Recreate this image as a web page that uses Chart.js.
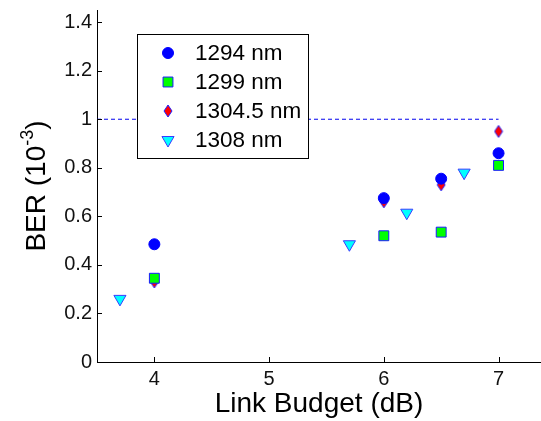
<!DOCTYPE html>
<html>
<head>
<meta charset="utf-8">
<script src="https://cdn.jsdelivr.net/npm/chart.js@4/dist/chart.umd.min.js"></script>
<style>
  html, body { margin: 0; padding: 0; background: #fff; }
  #wrap { width: 541px; height: 421px; }
</style>
</head>
<body>
<div id="wrap"><canvas id="berChart" width="541" height="421"></canvas></div>
<script>
// values
const seriesNames = ["1294 nm", "1299 nm", "1304.5 nm", "1308 nm"];
const budget1294 = [4, 6, 6.5, 7];
const ber1294 = [0.485, 0.675, 0.755, 0.86];
const budget1299 = [4, 6, 6.5, 7];
const ber1299 = [0.345, 0.52, 0.535, 0.81];
const budget13045 = [4, 6, 6.5, 7];
const ber13045 = [0.33, 0.66, 0.73, 0.95];
const budget1308 = [3.7, 5.7, 6.2, 6.7];
const ber1308 = [0.26, 0.485, 0.615, 0.78];
const thresholdX = [3.5, 7];
const thresholdBER = 1;
const xTicks = [4, 5, 6, 7];
const yTicks = [0, 0.2, 0.4, 0.6, 0.8, 1, 1.2, 1.4];

const FONT = "'Liberation Sans', Arial, sans-serif";

function pts(xs, ys) {
    return xs.map((x, i) => ({ x: x, y: ys[i] }));
}

// narrow red diamond with blue edge
function makeDiamond() {
    const c = document.createElement("canvas");
    c.width = 10;
    c.height = 14;
    const g = c.getContext("2d");
    g.beginPath();
    g.moveTo(5, 1);
    g.lineTo(9, 7);
    g.lineTo(5, 13);
    g.lineTo(1, 7);
    g.closePath();
    g.fillStyle = "#ff0000";
    g.fill();
    g.strokeStyle = "#2020ff";
    g.lineWidth = 1;
    g.stroke();
    return c;
}
const diamond = makeDiamond();

const markers = [
    { style: "circle", radius: 5.5, rotation: 0, bg: "#0000ff", border: "#0000ff" },
    { style: "rect", radius: 7, rotation: 0, bg: "#00ff00", border: "#1a1aff" },
    { style: diamond, radius: 6, rotation: 0, bg: "#ff0000", border: "#1a1aff" },
    { style: "triangle", radius: 7, rotation: 180, bg: "#00ffff", border: "#3a3aff" }
];

const seriesData = [
    pts(budget1294, ber1294),
    pts(budget1299, ber1299),
    pts(budget13045, ber13045),
    pts(budget1308, ber1308)
];

const datasets = seriesData.map((d, i) => ({
    type: "scatter",
    label: seriesNames[i],
    data: d,
    pointStyle: markers[i].style,
    pointRadius: markers[i].radius,
    pointRotation: markers[i].rotation,
    backgroundColor: markers[i].bg,
    borderColor: markers[i].border,
    borderWidth: 1
}));

datasets.unshift({
    type: "line",
    label: "threshold",
    data: thresholdX.map(x => ({ x: x, y: thresholdBER })),
    borderColor: "#0000ee",
    borderWidth: 1,
    borderDash: [4, 3],
    pointRadius: 0,
    fill: false
});

// inward tick marks, rotated y title with superscript, boxed legend
const decorations = {
    id: "decorations",
    afterDraw(chart) {
        const ctx = chart.ctx;
        const xs = chart.scales.x;
        const ys = chart.scales.y;
        const area = chart.chartArea;
        ctx.save();
        ctx.strokeStyle = "#000";
        ctx.lineWidth = 1;
        ctx.beginPath();
        xTicks.forEach(v => {
            const px = Math.round(xs.getPixelForValue(v)) + 0.5;
            ctx.moveTo(px, area.bottom);
            ctx.lineTo(px, area.bottom - 5);
        });
        yTicks.forEach(v => {
            const py = Math.round(ys.getPixelForValue(v)) + 0.5;
            ctx.moveTo(area.left, py);
            ctx.lineTo(area.left + 5, py);
        });
        ctx.stroke();

        // y title
        ctx.translate(45, 186);
        ctx.rotate(-Math.PI / 2);
        ctx.fillStyle = "#000";
        ctx.textBaseline = "alphabetic";
        const main = "BER (10";
        const sup = "-3";
        const close = ")";
        ctx.font = "28px " + FONT;
        const w1 = ctx.measureText(main).width;
        ctx.font = "18px " + FONT;
        const w2 = ctx.measureText(sup).width;
        ctx.font = "28px " + FONT;
        const w3 = ctx.measureText(close).width;
        let x0 = -(w1 + w2 + w3) / 2;
        ctx.fillText(main, x0, 0);
        ctx.font = "18px " + FONT;
        ctx.fillText(sup, x0 + w1, -12);
        ctx.font = "28px " + FONT;
        ctx.fillText(close, x0 + w1 + w2, 0);
        ctx.restore();

        // legend
        ctx.save();
        const bx = 137.5, by = 34.5, bw = 171, bh = 124;
        ctx.fillStyle = "#fff";
        ctx.fillRect(bx, by, bw, bh);
        ctx.strokeStyle = "#000";
        ctx.lineWidth = 1;
        ctx.strokeRect(bx, by, bw, bh);
        const rows = [53, 82, 111, 140];
        ctx.font = "22.5px " + FONT;
        ctx.textBaseline = "middle";
        seriesNames.forEach((name, i) => {
            const m = markers[i];
            ctx.fillStyle = m.bg;
            ctx.strokeStyle = m.border;
            ctx.lineWidth = 1;
            ctx.beginPath();
            if (m.style === "circle") {
                ctx.arc(168, rows[i], m.radius, 0, Math.PI * 2);
                ctx.fill();
                ctx.stroke();
            } else if (m.style === "rect") {
                const s = Math.SQRT1_2 * m.radius;
                ctx.rect(168 - s, rows[i] - s, 2 * s, 2 * s);
                ctx.fill();
                ctx.stroke();
            } else if (m.style === "triangle") {
                const r = m.radius;
                ctx.moveTo(168 - r * 0.866, rows[i] - r * 0.5);
                ctx.lineTo(168 + r * 0.866, rows[i] - r * 0.5);
                ctx.lineTo(168, rows[i] + r);
                ctx.closePath();
                ctx.fill();
                ctx.stroke();
            } else {
                ctx.drawImage(m.style, 168 - 5, rows[i] - 7);
            }
            ctx.fillStyle = "#000";
            ctx.fillText(name, 195, rows[i] + 1);
        });
        ctx.restore();
    }
};

new Chart(document.getElementById("berChart"), {
    type: "scatter",
    data: { datasets: datasets },
    options: {
        responsive: false,
        animation: false,
        layout: { autoPadding: false, padding: { top: 10, right: 0, left: 0, bottom: 0 } },
        plugins: {
            legend: { display: false },
            tooltip: { enabled: false }
        },
        scales: {
            x: {
                type: "linear",
                min: 3.5,
                max: 7.37,
                afterBuildTicks: s => { s.ticks = xTicks.map(v => ({ value: v })); },
                afterFit: s => {
                    s.height = 59;
                    s.paddingLeft = 0;
                    s.paddingRight = 0;
                },
                grid: { display: false, drawTicks: false },
                border: { display: true, color: "#000", width: 1 },
                ticks: {
                    color: "#111",
                    padding: 5,
                    font: { family: FONT, size: 20 }
                },
                title: {
                    display: true,
                    text: "Link Budget (dB)",
                    color: "#000",
                    padding: { top: -2, bottom: 0 },
                    font: { family: FONT, size: 28 }
                }
            },
            y: {
                type: "linear",
                min: 0,
                max: 1.45,
                afterBuildTicks: s => { s.ticks = yTicks.map(v => ({ value: v })); },
                afterFit: s => {
                    s.width = 97;
                    s.paddingTop = 0;
                    s.paddingBottom = 0;
                },
                grid: { display: false, drawTicks: false },
                border: { display: true, color: "#000", width: 1 },
                ticks: {
                    color: "#111",
                    padding: 5,
                    font: { family: FONT, size: 20 },
                    callback: v => String(v)
                }
            }
        }
    },
    plugins: [decorations]
});
</script>
</body>
</html>
